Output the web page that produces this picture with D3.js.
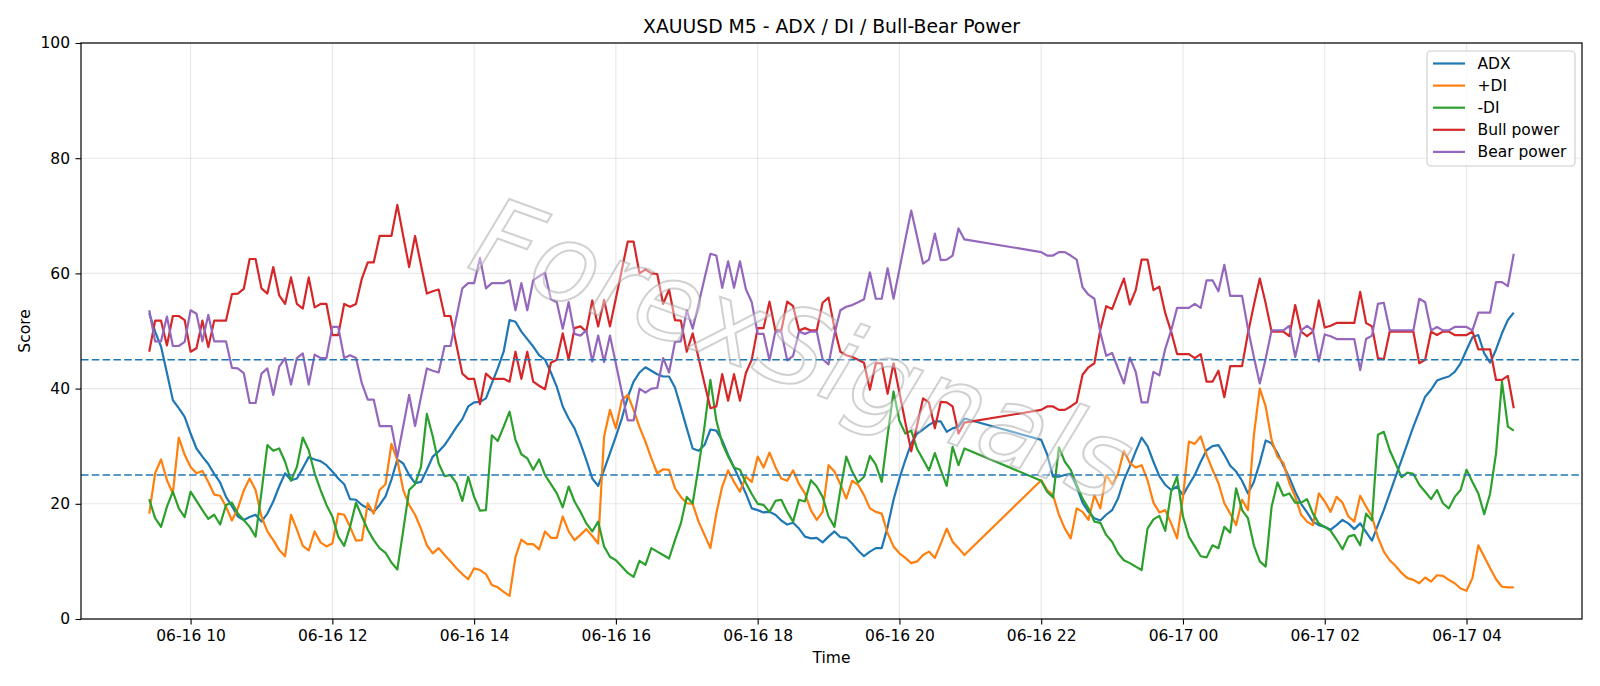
<!DOCTYPE html>
<html><head><meta charset="utf-8">
<script src="https://cdn.jsdelivr.net/npm/d3@7"></script>
<style>
body{margin:0;background:#fff}
svg{display:block}
text{font-family:"DejaVu Sans",sans-serif}
</style>
</head><body>
<svg id="chart" width="1600" height="686"></svg>
<script>
// ---------------- data ----------------
const startTime = "2025-06-16T09:25:00";
const stepMinutes = 5;
const N = null;
const adx = [
53.1,49.9,47.3,42.7,38.0,36.6,35.1,32.2,29.6,28.2,
26.9,25.2,23.7,21.2,19.6,17.8,17.2,17.7,18.1,16.9,
18.3,20.4,23.0,25.3,24.1,24.4,26.2,28.1,27.7,27.4,
26.7,25.6,24.4,23.4,20.8,20.7,19.8,19.2,18.6,19.8,
21.3,24.2,27.7,27.0,25.0,23.6,23.8,25.9,28.2,29.1,
30.2,31.7,33.3,34.7,36.9,37.6,37.7,38.3,40.9,43.5,
46.4,51.9,51.6,49.9,48.6,47.3,45.8,45.0,42.8,40.3,
36.9,34.8,33.1,30.5,27.6,24.4,23.1,25.9,28.8,31.7,
34.8,38.5,41.2,42.8,43.7,43.1,42.5,42.1,42.1,40.2,
36.7,33.1,29.6,29.2,30.2,32.9,32.7,31.0,28.5,26.3,
24.1,21.8,19.2,18.9,18.5,18.6,18.1,17.1,16.4,16.7,
15.7,14.3,14.0,14.1,13.3,14.3,15.2,14.2,14.1,13.1,
11.9,10.9,11.7,12.3,12.3,16.0,20.7,24.4,27.6,30.5,
32.2,32.9,33.7,34.3,34.3,32.5,33.1,33.4,34.8,N,
N,N,N,N,N,N,N,N,N,N,
N,31.1,28.6,24.7,24.7,25.0,25.2,23.0,20.2,18.6,
17.5,17.1,18.1,18.9,20.9,24.1,26.5,29.1,31.5,30.0,
27.3,24.8,23.3,22.4,23.0,21.5,23.3,25.0,27.3,29.3,
30.0,30.2,28.5,26.6,25.6,24.0,21.8,23.8,27.1,31.0,
30.5,28.8,26.6,24.6,22.1,20.0,18.5,16.9,16.3,16.0,
15.5,16.3,17.2,16.6,15.6,16.6,15.1,13.6,16.3,18.9,
21.8,24.7,27.6,30.5,33.4,36.0,38.6,39.8,41.4,41.8,
42.1,42.9,44.4,46.7,48.9,49.3,46.1,44.5,46.8,49.6,
51.9,53.2];
const plusDI = [
18.3,25.3,27.7,24.1,21.8,31.5,28.5,26.4,25.3,25.7,
23.8,21.6,21.4,19.5,17.1,19.2,22.3,24.4,22.4,17.8,
15.2,13.7,12.0,10.9,18.1,15.5,12.7,11.9,15.2,13.3,
12.6,13.1,18.3,18.1,16.0,13.6,13.7,20.1,18.3,22.4,
23.4,30.4,27.6,22.4,19.8,18.1,15.7,12.8,11.4,12.3,
11.1,10.0,8.8,7.8,6.9,8.8,8.5,7.8,5.9,5.5,
4.7,4.0,10.8,13.8,13.0,13.0,12.1,15.2,14.1,14.1,
17.8,15.2,13.7,14.6,15.6,14.4,13.1,31.7,36.3,33.1,
38.0,38.9,36.3,33.3,30.8,27.9,25.3,26.0,25.9,22.7,
21.2,20.1,20.0,16.9,14.6,12.3,18.3,23.0,25.8,23.8,
22.1,24.7,23.8,28.2,26.3,28.9,26.4,24.4,24.0,25.8,
23.4,21.8,18.9,17.2,18.6,26.7,25.6,23.4,20.9,24.0,
23.3,21.5,19.2,18.6,18.3,14.9,12.6,11.4,10.6,9.7,
10.0,11.1,11.7,10.6,13.1,15.7,13.4,12.3,11.1,N,
N,N,N,N,N,N,N,N,N,N,
N,24.1,22.4,21.5,18.1,15.7,14.0,19.2,18.6,17.2,
21.5,19.2,25.0,23.4,25.2,29.2,27.1,26.3,26.7,24.1,
20.2,18.5,18.9,16.6,14.0,21.2,30.8,30.4,31.7,28.5,
25.9,23.6,20.1,18.3,16.3,20.7,18.9,31.9,40.0,36.9,
31.1,28.2,27.1,23.6,21.2,18.1,16.9,16.3,21.8,20.4,
18.6,21.2,20.2,17.8,16.9,21.4,19.5,17.8,14.2,11.7,
10.2,9.2,8.0,7.1,6.8,6.2,7.2,6.5,7.6,7.5,
6.8,6.2,5.3,4.9,7.1,12.8,10.8,8.8,6.9,5.6,
5.5,5.5];
const minusDI = [
20.8,17.5,16.0,19.5,22.1,19.2,17.7,22.1,20.5,18.9,
17.4,18.1,16.4,19.8,20.2,18.3,17.2,16.0,14.3,22.0,
30.2,29.2,29.6,27.3,24.0,26.4,31.5,29.3,25.3,22.4,
19.8,17.8,14.3,12.7,16.0,20.2,17.8,15.5,13.7,12.3,
11.5,9.8,8.6,15.4,22.4,23.4,26.4,35.6,31.7,27.0,
24.8,25.0,23.6,20.5,24.7,21.2,18.8,18.9,31.9,30.9,
33.4,36.0,31.1,28.6,27.9,25.9,27.7,25.0,23.4,21.8,
19.4,23.0,20.4,18.6,16.6,15.2,16.9,12.6,10.8,10.2,
9.1,8.0,7.3,10.1,9.4,12.3,11.7,11.1,10.5,13.7,
16.6,21.2,20.1,26.4,33.4,41.5,34.5,30.5,28.2,26.3,
25.9,23.6,21.7,20.0,19.8,18.6,20.5,20.7,18.6,16.9,
20.7,20.4,24.1,23.0,21.2,17.8,16.0,22.4,28.2,25.6,
23.7,24.7,28.3,26.8,23.8,31.9,39.5,34.4,32.2,32.7,
29.5,27.7,25.8,28.8,25.9,23.1,29.9,26.7,29.6,N,
N,N,N,N,N,N,N,N,N,N,
N,24.0,22.1,21.1,29.8,27.3,25.9,23.3,20.9,19.2,
16.9,16.7,14.6,13.4,11.4,10.2,9.7,9.1,8.5,15.7,
17.3,17.9,15.3,22.1,24.7,17.8,14.3,12.6,10.9,10.7,
12.8,12.3,16.0,15.0,22.7,18.9,17.5,12.8,10.0,9.1,
19.5,23.7,21.4,21.8,20.2,20.2,20.8,18.3,16.6,16.0,
15.3,13.8,12.1,14.3,14.6,12.8,18.3,17.1,32.0,32.5,
29.3,27.0,24.6,25.4,25.2,23.3,22.1,20.8,22.4,20.1,
19.2,21.2,22.4,25.9,23.8,21.8,18.2,21.8,28.8,41.2,
33.4,32.7];
const bullPower = [
46.4,51.8,51.8,47.5,52.6,52.6,51.9,46.4,47.0,51.8,
47.2,51.8,51.8,51.8,56.4,56.5,57.3,62.5,62.5,57.4,
56.5,61.1,56.2,54.7,59.3,54.7,53.9,59.3,54.1,54.7,
54.7,49.3,49.3,54.7,54.2,54.7,59.1,61.9,61.9,66.5,
66.5,66.5,71.9,66.5,61.1,66.5,61.5,56.5,56.9,57.2,
52.6,52.6,47.6,42.6,41.7,41.7,37.3,42.6,41.7,41.7,
41.7,41.2,46.4,41.7,46.4,41.2,40.5,39.9,44.5,45.0,
49.6,45.0,50.5,50.8,49.9,55.3,50.8,55.4,50.8,55.7,
60.6,65.5,65.5,60.0,60.7,60.0,59.9,54.7,57.2,51.9,
51.8,46.4,49.6,45.3,40.9,36.6,36.9,42.5,37.9,42.5,
37.9,42.7,45.0,50.5,50.5,55.1,50.1,50.1,55.1,54.3,
50.1,50.5,50.1,50.1,54.9,55.8,50.5,46.4,45.8,45.5,
45.0,44.5,39.8,44.4,44.4,39.1,44.4,39.3,34.1,29.1,
33.7,38.3,37.6,33.1,37.7,37.6,36.9,32.2,34.1,N,
N,N,N,N,N,N,N,N,N,N,
N,36.3,36.9,36.9,36.3,36.3,36.9,37.6,42.4,43.7,
44.4,50.2,54.3,53.8,56.5,59.1,54.6,57.1,62.4,62.4,
57.1,57.7,53.1,49.9,46.0,46.0,46.0,45.3,46.0,41.2,
41.2,43.1,38.5,43.9,43.9,43.9,49.6,54.5,59.1,54.8,
49.9,49.9,49.9,49.1,54.5,49.9,49.1,49.9,55.3,50.6,
50.9,51.4,51.4,51.4,51.4,56.8,51.4,50.8,45.3,45.1,
49.9,49.9,49.9,49.9,49.9,44.4,45.0,49.9,49.3,49.9,
49.9,49.3,49.3,49.3,49.9,46.8,46.8,46.8,41.5,41.5,
42.2,36.6];
const bearPower = [
53.6,48.2,48.2,52.5,47.4,47.4,48.1,53.6,53.0,48.2,
52.8,48.2,48.2,48.2,43.6,43.5,42.7,37.5,37.5,42.6,
43.5,38.9,43.8,45.3,40.7,45.3,46.1,40.7,45.9,45.3,
45.3,50.7,50.7,45.3,45.8,45.3,40.9,38.1,38.1,33.5,
33.5,33.5,28.1,33.5,38.9,33.5,38.5,43.5,43.1,42.8,
47.4,47.4,52.4,57.4,58.3,58.3,62.7,57.4,58.3,58.3,
58.3,58.8,53.6,58.3,53.6,58.8,59.5,60.1,55.5,55.0,
50.4,55.0,49.5,49.2,50.1,44.7,49.2,44.6,49.2,44.3,
39.4,34.5,34.5,40.0,39.3,40.0,40.1,45.3,42.8,48.1,
48.2,53.6,50.4,54.7,59.1,63.4,63.1,57.5,62.1,57.5,
62.1,57.3,55.0,49.5,49.5,44.9,49.9,49.9,44.9,45.7,
49.9,49.5,49.9,49.9,45.1,44.2,49.5,53.6,54.2,54.5,
55.0,55.5,60.2,55.6,55.6,60.9,55.6,60.7,65.9,70.9,
66.3,61.7,62.4,66.9,62.3,62.4,63.1,67.8,65.9,N,
N,N,N,N,N,N,N,N,N,N,
N,63.7,63.1,63.1,63.7,63.7,63.1,62.4,57.6,56.3,
55.6,49.8,45.7,46.2,43.5,40.9,45.4,42.9,37.6,37.6,
42.9,42.3,46.9,50.1,54.0,54.0,54.0,54.7,54.0,58.8,
58.8,56.9,61.5,56.1,56.1,56.1,50.4,45.5,40.9,45.2,
50.1,50.1,50.1,50.9,45.5,50.1,50.9,50.1,44.7,49.4,
49.1,48.6,48.6,48.6,48.6,43.2,48.6,49.2,54.7,54.9,
50.1,50.1,50.1,50.1,50.1,55.6,55.0,50.1,50.7,50.1,
50.1,50.7,50.7,50.7,50.1,53.2,53.2,53.2,58.5,58.5,
57.8,63.4];
const seriesNames = ["ADX", "+DI", "-DI", "Bull power", "Bear power"];
const yTickValues = [0, 20, 40, 60, 80, 100];
const refLevels = [45, 25];
const titleText = "XAUUSD M5 - ADX / DI / Bull-Bear Power";
const xLabelText = "Time";
const yLabelText = "Score";
const watermarkText = "ForexSignals";

// ---------------- styles ----------------
const seriesColors = ["#1f77b4", "#ff7f0e", "#2ca02c", "#d62728", "#9467bd"];
const plot = {left: 81, right: 1582, top: 43, bottom: 619};

const svg = d3.select("#chart");
const t0 = d3.timeParse("%Y-%m-%dT%H:%M:%S")(startTime);
const times = adx.map((_, i) => d3.timeMinute.offset(t0, i * stepMinutes));
const tMin = times[0], tMax = times[times.length - 1];
const pad = (tMax - tMin) * 0.05;

const x = d3.scaleTime()
  .domain([new Date(+tMin - pad), new Date(+tMax + pad)])
  .range([plot.left, plot.right]);
const y = d3.scaleLinear().domain([0, 100]).range([plot.bottom, plot.top]);

const allSeries = [adx, plusDI, minusDI, bullPower, bearPower];

// grid
const xTicks = x.ticks(d3.timeHour.every(2));
const grid = svg.append("g").attr("stroke", "#b0b0b0").attr("stroke-opacity", 0.3).attr("stroke-width", 1.1);
xTicks.forEach(t => grid.append("line").attr("x1", x(t)).attr("x2", x(t)).attr("y1", plot.top).attr("y2", plot.bottom));
yTickValues.forEach(v => grid.append("line").attr("x1", plot.left).attr("x2", plot.right).attr("y1", y(v)).attr("y2", y(v)));

// series
const line = d3.line().x(d => x(d.t)).y(d => y(d.v));
allSeries.forEach((vals, k) => {
  const pts = vals.map((v, i) => ({t: times[i], v})).filter(d => d.v !== null);
  svg.append("path").datum(pts)
    .attr("d", line)
    .attr("fill", "none")
    .attr("stroke", seriesColors[k])
    .attr("stroke-width", 2.2)
    .attr("stroke-linejoin", "round")
    .attr("stroke-linecap", "butt");
});

// reference levels
refLevels.forEach(v => {
  svg.append("line")
    .attr("x1", plot.left).attr("x2", plot.right)
    .attr("y1", y(v)).attr("y2", y(v))
    .attr("stroke", "#1f77b4").attr("stroke-width", 1.6)
    .attr("stroke-dasharray", "7.5,3.3");
});

// watermark
svg.append("text")
  .attr("transform", "translate(800,357) rotate(20)")
  .attr("text-anchor", "middle")
  .attr("dominant-baseline", "middle")
  .attr("font-size", 108)
  .attr("font-style", "italic")
  .attr("fill", "#ffffff").attr("fill-opacity", 0.4)
  .attr("stroke", "#9a9a9a").attr("stroke-opacity", 0.45).attr("stroke-width", 2)
  .text(watermarkText);

// axes
const xAxis = d3.axisBottom(x).tickValues(xTicks).tickFormat(d3.timeFormat("%m-%d %H")).tickSize(5.5).tickPadding(5.5);
const gx = svg.append("g").attr("transform", `translate(0,${plot.bottom})`).call(xAxis);
const yAxis = d3.axisLeft(y).tickValues(yTickValues).tickFormat(d3.format("d")).tickSize(5.5).tickPadding(5.5);
const gy = svg.append("g").attr("transform", `translate(${plot.left},0)`).call(yAxis);
[gx, gy].forEach(g => {
  g.select(".domain").remove();
  g.selectAll(".tick line").attr("stroke", "#000").attr("stroke-width", 1.1);
  g.selectAll(".tick text").attr("font-family", "DejaVu Sans").attr("font-size", 15.5).attr("fill", "#000");
});

// frame
svg.append("rect")
  .attr("x", plot.left).attr("y", plot.top)
  .attr("width", plot.right - plot.left).attr("height", plot.bottom - plot.top)
  .attr("fill", "none").attr("stroke", "#000").attr("stroke-width", 1.2);

// labels
svg.append("text").attr("x", (plot.left + plot.right) / 2).attr("y", 33)
  .attr("text-anchor", "middle").attr("font-size", 18.8).text(titleText);
svg.append("text").attr("x", (plot.left + plot.right) / 2).attr("y", 663)
  .attr("text-anchor", "middle").attr("font-size", 15.5).text(xLabelText);
svg.append("text").attr("transform", `translate(30,${(plot.top + plot.bottom) / 2}) rotate(-90)`)
  .attr("text-anchor", "middle").attr("font-size", 15.5).text(yLabelText);

// legend
const lg = svg.append("g");
lg.append("rect").attr("x", 1427).attr("y", 51).attr("width", 148).attr("height", 115)
  .attr("rx", 4).attr("fill", "#fff").attr("fill-opacity", 0.8)
  .attr("stroke", "#cccccc").attr("stroke-width", 1.1);
seriesNames.forEach((name, k) => {
  const cy = 63.5 + k * 22.1;
  lg.append("line").attr("x1", 1433).attr("x2", 1465).attr("y1", cy).attr("y2", cy)
    .attr("stroke", seriesColors[k]).attr("stroke-width", 2.2);
  lg.append("text").attr("x", 1477.5).attr("y", cy).attr("dy", "0.36em")
    .attr("font-size", 15.5).text(name);
});
</script>
</body></html>
